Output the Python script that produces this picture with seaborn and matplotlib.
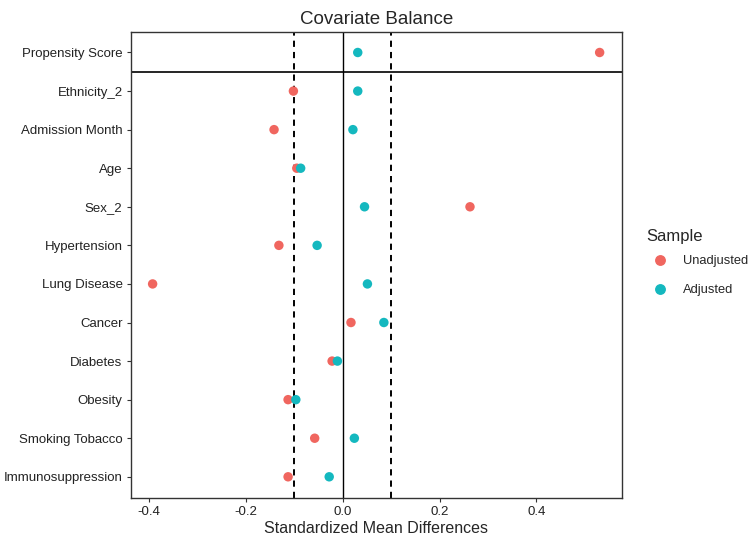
import pandas as pd
import matplotlib
matplotlib.use("Agg")
import matplotlib.pyplot as plt
import seaborn as sns
from matplotlib.lines import Line2D

# ------------------------- data ------------------------- #
covariates = ["Propensity Score", "Ethnicity_2", "Admission Month", "Age", "Sex_2",
              "Hypertension", "Lung Disease", "Cancer", "Diabetes", "Obesity",
              "Smoking Tobacco", "Immunosuppression"]
unadjusted = [0.531, -0.102, -0.142, -0.095, 0.263, -0.132, -0.393, 0.017, -0.022,
              -0.113, -0.058, -0.113]
adjusted = [0.031, 0.031, 0.021, -0.087, 0.045, -0.053, 0.051, 0.085, -0.011,
            -0.097, 0.024, -0.028]
samples = ["Unadjusted", "Adjusted"]
colors = ["#F0665F", "#14B8BF"]
x_ticks = [-0.4, -0.2, 0.0, 0.2, 0.4]
threshold = 0.1

df = pd.DataFrame({
    "covariate": covariates * 2,
    "smd": unadjusted + adjusted,
    "Sample": [samples[0]] * len(covariates) + [samples[1]] * len(covariates),
})

# ------------------------- plot ------------------------- #
sns.set_theme(style="white")
plt.rcParams["font.family"] = ["Liberation Sans", "DejaVu Sans"]

fig = plt.figure(figsize=(7.52, 5.37), dpi=100)
ax = fig.add_axes([0.174, 0.0726, 0.653, 0.867])

for xv in (-threshold, threshold):
    ax.axvline(xv, color="black", ls=(0, (3.2, 2.6)), lw=1.4, zorder=1)
ax.axvline(0, color="black", lw=1.0, zorder=1)
ax.axhline(0.5, color="black", lw=1.2, zorder=1)

sns.stripplot(data=df, x="smd", y="covariate", hue="Sample", order=covariates,
              hue_order=samples, palette=colors, jitter=False, dodge=False,
              size=6.8, linewidth=0, ax=ax, legend=False, zorder=3)

ax.set_xlim(-0.438, 0.577)
ax.set_ylim(len(covariates) - 0.45, -0.52)
ax.set_xticks(x_ticks)
ax.set_xticklabels([f"{t:.1f}" for t in x_ticks])
ax.set_xlabel("Standardized Mean Differences", fontsize=11.5, labelpad=2)
ax.set_ylabel("")
ax.set_title("Covariate Balance", fontsize=13.5, pad=6)
ax.tick_params(axis="both", which="both", length=3, width=0.8, color="#333333",
               labelsize=9.5, labelcolor="#222222", left=True, bottom=True, pad=3)
for s in ax.spines.values():
    s.set_color("#333333")
    s.set_linewidth(1.0)

handles = [Line2D([0], [0], marker="o", ls="", color=c, markersize=6.8) for c in colors]
leg = fig.legend(handles, samples, title="Sample", loc="upper left",
                 bbox_to_anchor=(0.853, 0.583), frameon=False, fontsize=9.3,
                 title_fontsize=12, handletextpad=0.85, labelspacing=1.3,
                 borderaxespad=0)
leg._legend_box.align = "left"
leg._legend_box.sep = 8

fig.savefig("out.png", dpi=100)
